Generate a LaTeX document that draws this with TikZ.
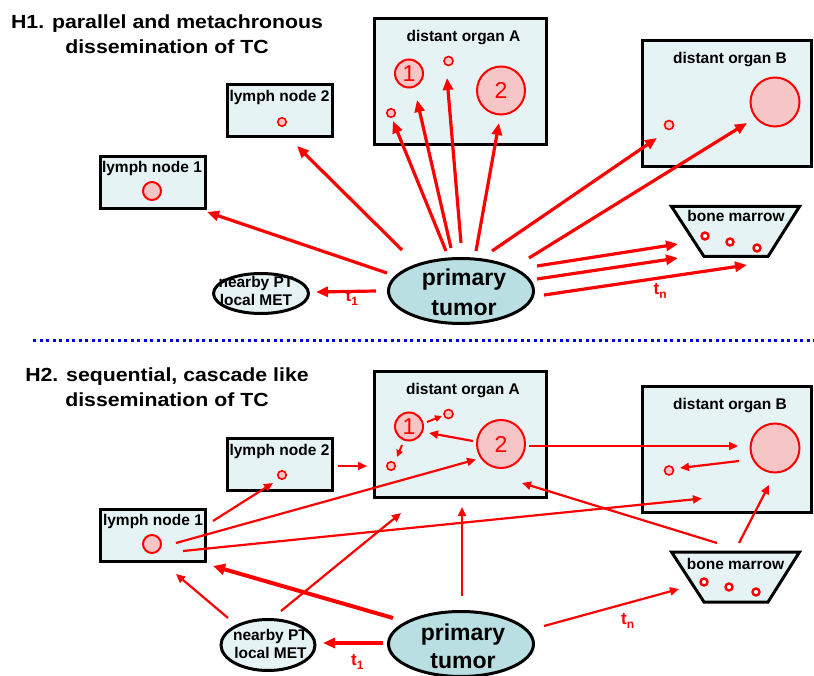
\documentclass[tikz,border=0pt]{standalone}
\usepackage{fontspec}
\setmainfont{Liberation Sans}
\newfontfamily\titlefont{Liberation Sans}[FakeStretch=1.12]
\usetikzlibrary{arrows.meta,shapes.geometric,calc}
\definecolor{boxfill}{RGB}{230,243,245}
\definecolor{cellfill}{RGB}{246,198,198}
\definecolor{tumfill}{RGB}{185,223,227}
\definecolor{arrred}{RGB}{255,0,0}
\definecolor{sepblue}{RGB}{0,0,235}
\tikzset{
  title/.style={font=\titlefont\bfseries\fontsize{19}{25}\selectfont, align=center, inner sep=0, anchor=north},
  organ/.style={rectangle, draw=black, line width=3pt, fill=boxfill, inner sep=0},
  lbl/.style={font=\bfseries\fontsize{15.5}{18}\selectfont, inner sep=0, anchor=base},
  cell/.style={circle, draw=arrred, fill=cellfill, line width=2pt, inner sep=0},
  smallcell/.style={circle, draw=arrred, fill=cellfill, line width=1.6pt, inner sep=0},
  num/.style={font=\fontsize{23}{23}\selectfont, text=arrred},
  ring/.style={circle, draw=arrred, fill=white, line width=2.4pt, inner sep=0, minimum size=7pt},
  marrowline/.style={draw=black, line width=3pt, fill=boxfill, line join=miter},
  tumor/.style={ellipse, draw=black, line width=3pt, fill=tumfill, minimum width=145pt, minimum height=65pt, inner sep=0},
  tumtext/.style={font=\bfseries\fontsize{23}{#1}\selectfont, align=center, inner sep=0, anchor=north},
  npt/.style={ellipse, draw=black, line width=3pt, fill=boxfill, inner sep=0},
  npttext/.style={font=\bfseries\fontsize{15.5}{#1}\selectfont, align=center, inner sep=0, anchor=north},
  tlbl/.style={font=\bfseries\fontsize{17}{17}\selectfont, text=arrred, inner sep=0, anchor=base west},
  arrA/.style={draw=arrred, line width=3.2pt, -{Triangle[length=12pt,width=10pt]}},
  arrB/.style={draw=arrred, line width=2.2pt, -{Triangle[length=9pt,width=8pt]}},
  arrS/.style={draw=arrred, line width=2pt, -{Triangle[length=7pt,width=6.5pt]}},
  arrT/.style={draw=arrred, line width=4pt, -{Triangle[length=12pt,width=11pt]}},
  sep/.style={draw=sepblue, line width=3pt, dash pattern=on 3.2pt off 3.3pt},
}
\newcommand{\tsub}[1]{t\raisebox{-4pt}{\fontsize{12}{12}\selectfont #1}}
\newcommand{\marrowshape}[1]{%
  \draw[marrowline] ($(#1)+(-64,-25)$) -- ($(#1)+(64,-25)$) -- ($(#1)+(32.5,25)$) -- ($(#1)+(-31.5,25)$) -- cycle;}
\begin{document}
\begin{tikzpicture}[x=1pt,y=-1pt]
\useasboundingbox (0,0) rectangle (814,676);

% ================= H1 =================
\node[title] (h1) at (167,15) {H1. parallel and metachronous\\dissemination of TC};

\node[organ, minimum width=105pt, minimum height=52pt] (ln1A) at (153,182.5) {};
\node[lbl] (ln1At) at (152,173) {lymph node 1};
\node[cell, minimum size=18pt] (ln1Ac) at (152,191) {};

\node[organ, minimum width=105pt, minimum height=52pt] (ln2A) at (279.5,111) {};
\node[lbl] (ln2At) at (279.5,101.7) {lymph node 2};
\node[smallcell, minimum size=8.5pt] (ln2Ac) at (282,122) {};

\node[organ, minimum width=172pt, minimum height=126pt] (orgAA) at (460.5,81.5) {};
\node[lbl] (orgAAt) at (463.5,41.5) {distant organ A};
\node[cell, num, minimum size=28pt] (aA1) at (409,73.5) {1};
\node[smallcell, minimum size=9pt] (aAs1) at (448.5,61) {};
\node[cell, num, minimum size=48pt] (aA2) at (501,90.5) {2};
\node[smallcell, minimum size=8.5pt] (aAs2) at (391,113) {};

\node[organ, minimum width=169pt, minimum height=126pt] (orgBA) at (727,103.5) {};
\node[lbl] (orgBAt) at (730,64) {distant organ B};
\node[cell, minimum size=49pt] (bAbig) at (775,102) {};
\node[smallcell, minimum size=9pt] (bAs) at (669,125) {};

\coordinate (bmA) at (735.5,231.5);
\marrowshape{bmA}
\node[lbl] (bmAt) at (736,221.7) {bone marrow};
\node[ring] (rA1) at (705,236) {};
\node[ring] (rA2) at (730,242) {};
\node[ring] (rA3) at (757,248) {};

\node[tumor] (tumA) at (461,291) {};
\node[tumtext=30] (tumAt) at (464,268.5) {primary\\tumor};

\node[npt, minimum width=95pt, minimum height=40pt] (nptA) at (261,293.5) {};
\node[npttext=18] (nptAt) at (256,275.8) {nearby PT\\local MET};

\node[tlbl] (t1A) at (345.5,302) {\tsub{1}};
\node[tlbl] (tnA) at (653.5,295) {\tsub{n}};

\draw[arrA] ($(tumA.center)+(-74,-18)$) -- ($(ln1A.center)+(54,29.5)$);
\draw[arrA] ($(tumA.center)+(-59,-41)$) -- ($(ln2A.center)+(17.5,35)$);
\draw[arrA] ($(tumA.center)+(-15,-40)$) -- ($(aAs2.center)+(2,8)$);
\draw[arrA] ($(tumA.center)+(-10,-43)$) -- ($(aA1.center)+(8,26.5)$);
\draw[arrA] ($(tumA.center)+(0,-48)$) -- ($(aAs1.center)+(-1.5,17)$);
\draw[arrA] ($(tumA.center)+(15,-40)$) -- ($(aA2.center)+(-2,32.5)$);
\draw[arrA] ($(tumA.center)+(31,-40)$) -- ($(bAs.center)+(-12,13)$);
\draw[arrA] ($(tumA.center)+(68,-33)$) -- ($(bAbig.center)+(-28,21)$);
\draw[arrA] ($(tumA.center)+(76,-25)$) -- ($(bmA)+(-57.5,12.5)$);
\draw[arrA] ($(tumA.center)+(76,-12)$) -- ($(bmA)+(-57.5,26.5)$);
\draw[arrA] ($(tumA.center)+(83,4)$) -- ($(bmA)+(11.5,33.5)$);
\draw[arrA] ($(tumA.center)+(-85,0)$) -- ($(nptA.center)+(55,-1.5)$);

% separator
\coordinate (sepL) at (33,341);
\coordinate (sepR) at (814,341);
\draw[sep] (sepL) -- (sepR);

% ================= H2 =================
\node[title] (h2) at (167,367.4) {H2. sequential, cascade like\\dissemination of TC};

\node[organ, minimum width=105pt, minimum height=52pt] (ln1B) at (153,535.5) {};
\node[lbl] (ln1Bt) at (153,525.5) {lymph node 1};
\node[cell, minimum size=18pt] (ln1Bc) at (152,544) {};

\node[organ, minimum width=105pt, minimum height=52pt] (ln2B) at (279.5,464) {};
\node[lbl] (ln2Bt) at (279.5,455) {lymph node 2};
\node[smallcell, minimum size=8.5pt] (ln2Bc) at (282,475) {};

\node[organ, minimum width=172pt, minimum height=126pt] (orgAB) at (460.5,434.5) {};
\node[lbl] (orgABt) at (463,394.5) {distant organ A};
\node[cell, num, minimum size=28pt] (aB1) at (409,426.5) {1};
\node[smallcell, minimum size=9pt] (aBs1) at (448.5,414) {};
\node[cell, num, minimum size=48pt] (aB2) at (501,444) {2};
\node[smallcell, minimum size=8.5pt] (aBs2) at (391,466) {};

\node[organ, minimum width=169pt, minimum height=126pt] (orgBB) at (727,449.5) {};
\node[lbl] (orgBBt) at (730,409.5) {distant organ B};
\node[cell, minimum size=49pt] (bBbig) at (775,448) {};
\node[smallcell, minimum size=9pt] (bBs) at (669,470.5) {};

\coordinate (bmB) at (735.5,577);
\marrowshape{bmB}
\node[lbl] (bmBt) at (735.5,569.5) {bone marrow};
\node[ring] (rB1) at (704,582) {};
\node[ring] (rB2) at (729,587) {};
\node[ring] (rB3) at (756,592) {};

\node[tumor] (tumB) at (461,644) {};
\node[tumtext=28] (tumBt) at (463,623.5) {primary\\tumor};

\node[npt, minimum width=94pt, minimum height=51pt] (nptB) at (268,645) {};
\node[npttext=17.7] (nptBt) at (270.5,629.3) {nearby PT\\local MET};

\node[tlbl] (t1B) at (351,665) {\tsub{1}};
\node[tlbl] (tnB) at (621,624.5) {\tsub{n}};

\draw[arrB] ($(ln2B.center)+(58.5,2)$) -- ($(orgAB.center)+(-93.5,31.5)$);
\draw[arrB] ($(ln1B.center)+(60,-14.5)$) -- ($(ln2Bc.center)+(-9,8)$);
\draw[arrB] ($(ln1Bc.center)+(24,-1)$) -- ($(aB2.center)+(-25,15.5)$);
\draw[arrB] ($(ln1B.center)+(30,15.5)$) -- ($(orgBB.center)+(-25,49)$);
\draw[arrB] ($(nptB.center)+(-40,-27)$) -- ($(ln1B.center)+(23,38.5)$);
\draw[arrB] ($(nptB.center)+(13,-34)$) -- ($(orgAB.center)+(-59.5,78.5)$);
\draw[arrT] ($(tumB.center)+(-68,-26)$) -- ($(ln1B.center)+(60,30.5)$);
\draw[arrA] ($(tumB.center)+(-78,-1)$) -- ($(nptB.center)+(55,-2)$);
\draw[arrB] ($(tumB.center)+(1,-48)$) -- ($(orgAB.center)+(1.5,72.5)$);
\draw[arrB] ($(tumB.center)+(83,-18)$) -- ($(bmB)+(-56.5,12)$);
\draw[arrB] ($(bmB)+(-18.5,-34)$) -- ($(orgAB.center)+(61.5,48.5)$);
\draw[arrB] ($(bmB)+(3.5,-34)$) -- ($(bBbig.center)+(-6,37)$);
\draw[arrB] ($(aB2.center)+(28,2)$) -- ($(bBbig.center)+(-37,-2)$);
\draw[arrB] ($(bBbig.center)+(-36,13)$) -- ($(bBs.center)+(11,-2.5)$);
\draw[arrB] ($(aB2.center)+(-28,-3)$) -- ($(aB1.center)+(20,6.5)$);
\draw[arrS] ($(aB1.center)+(18,-4.5)$) -- ($(aBs1.center)+(-6.5,2)$);
\draw[arrS] ($(aB1.center)+(-7,18.5)$) -- ($(aBs2.center)+(6,-9)$);
\end{tikzpicture}
\end{document}
